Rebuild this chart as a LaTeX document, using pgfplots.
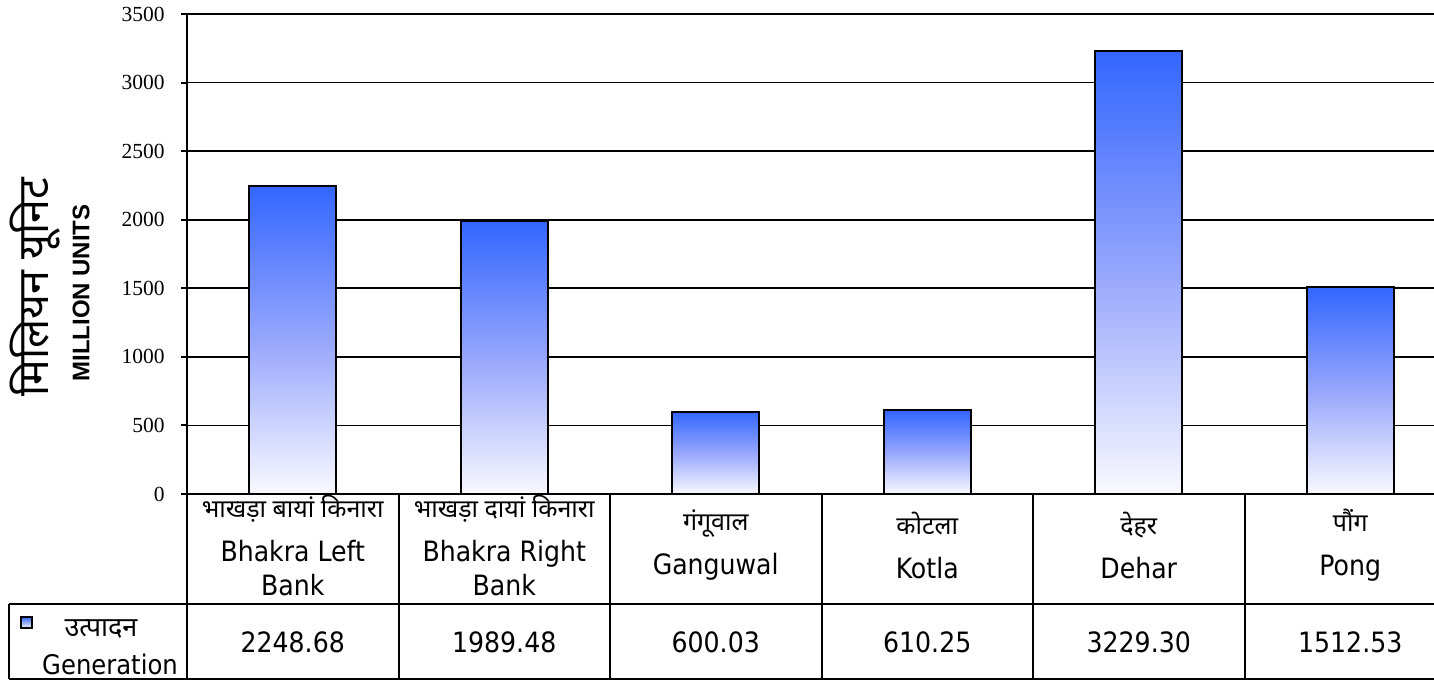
\documentclass[border=0pt]{standalone}
\usepackage{pgfplots}
\pgfplotsset{compat=1.18}
\usepackage{fontspec}
\setmainfont{DejaVu Sans Condensed}
\newfontfamily\devfont[Script=Devanagari]{Noto Sans}
\newfontfamily\seriffont{Liberation Serif}
\newfontfamily\arialfont{Liberation Sans}

\definecolor{barblue}{RGB}{51,102,255}
\definecolor{barmid}{RGB}{150,166,252}
\definecolor{barwhite}{RGB}{249,249,255}

% one column of the table under the bars: name cell over value cell
\newcommand{\cat}[3]{\vbox{\offinterlineskip
  \hbox{\parbox[c][55bp][c]{104bp}{\centering\fontsize{14bp}{17bp}\selectfont
    {\devfont\fontsize{12.5bp}{17bp}\selectfont #1}\\[5bp]#2\par\vspace{4bp}}}
  \hbox{\parbox[c][37.5bp][c]{104bp}{\centering\fontsize{14bp}{16bp}\selectfont #3}}}}

\pgfplotsset{genbar/.style={ybar, bar shift=0pt, bar width=0.41, draw=black,
  line width=1bp, top color=barblue, bottom color=barwhite, middle color=barmid}}

\begin{document}
\begin{tikzpicture}
\begin{axis}[
  scale only axis,
  width=634.5bp, height=240bp,
  xmin=-0.5, xmax=5.5,
  ymin=0, ymax=3500,
  ytick={0,500,...,3500},
  ytick pos=left,
  tick align=outside,
  major tick length=3bp,
  xtick={0,...,5},
  xtick style={draw=none},
  xticklabels={
    {\cat{भाखड़ा बायां किनारा}{Bhakra Left\\Bank}{2248.68}},
    {\cat{भाखड़ा दायां किनारा}{Bhakra Right\\Bank}{1989.48}},
    {\cat{गंगूवाल}{Ganguwal}{600.03}},
    {\cat{कोटला}{Kotla}{610.25}},
    {\cat{देहर}{Dehar}{3229.30}},
    {\cat{पौंग}{Pong}{1512.53}}},
  xticklabel style={anchor=north, inner sep=0pt, yshift=3bp},
  yticklabel style={font=\seriffont\fontsize{10.75bp}{13bp}\selectfont, inner sep=0pt, xshift=-8bp},
  /pgf/number format/assume math mode=true,
  /pgf/number format/1000 sep={},
  ymajorgrids,
  major grid style={black, line width=0.9bp},
  axis line style={line width=1.2bp},
  every tick/.style={black, line width=1bp},
]
% one plot per bar so that each bar gets its own shading
\addplot[genbar] coordinates {(0,2248.68)};
\addplot[genbar] coordinates {(1,1989.48)};
\addplot[genbar] coordinates {(2,600.03)};
\addplot[genbar] coordinates {(3,610.25)};
\addplot[genbar] coordinates {(4,3229.30)};
\addplot[genbar] coordinates {(5,1512.53)};
\end{axis}

% axis titles
\node[rotate=90] at (-76bp,103.5bp) {\devfont\fontsize{21.5bp}{24bp}\selectfont मिलियन यूनिट};
\node[rotate=90] at (-53bp,100.5bp) {\arialfont\bfseries\fontsize{12bp}{14bp}\selectfont MILLION UNITS};

% table grid
\begin{scope}[line width=1bp]
\draw (-89bp,-55bp) -- (634.5bp,-55bp);
\draw (-89bp,-92.3bp) -- (634.5bp,-92.3bp);
\draw (-89bp,-55bp) -- (-89bp,-92.3bp);
\foreach \k in {0,...,6} \draw (\k*105.75bp,0) -- (\k*105.75bp,-92.3bp);
\end{scope}

% legend key in the first cell
\draw[black, line width=0.6bp, top color=barblue, bottom color=barwhite]
  (-83bp,-61.5bp) rectangle (-77.5bp,-67bp);
\node at (-43bp,-67.5bp) {\devfont\fontsize{13.5bp}{15bp}\selectfont उत्पादन};
\node at (-38.5bp,-85bp) {\fontsize{13.5bp}{16bp}\selectfont Generation};

\pgfresetboundingbox
\useasboundingbox (-93.5bp,-93bp) rectangle (623.5bp,247bp);
\end{tikzpicture}
\end{document}
